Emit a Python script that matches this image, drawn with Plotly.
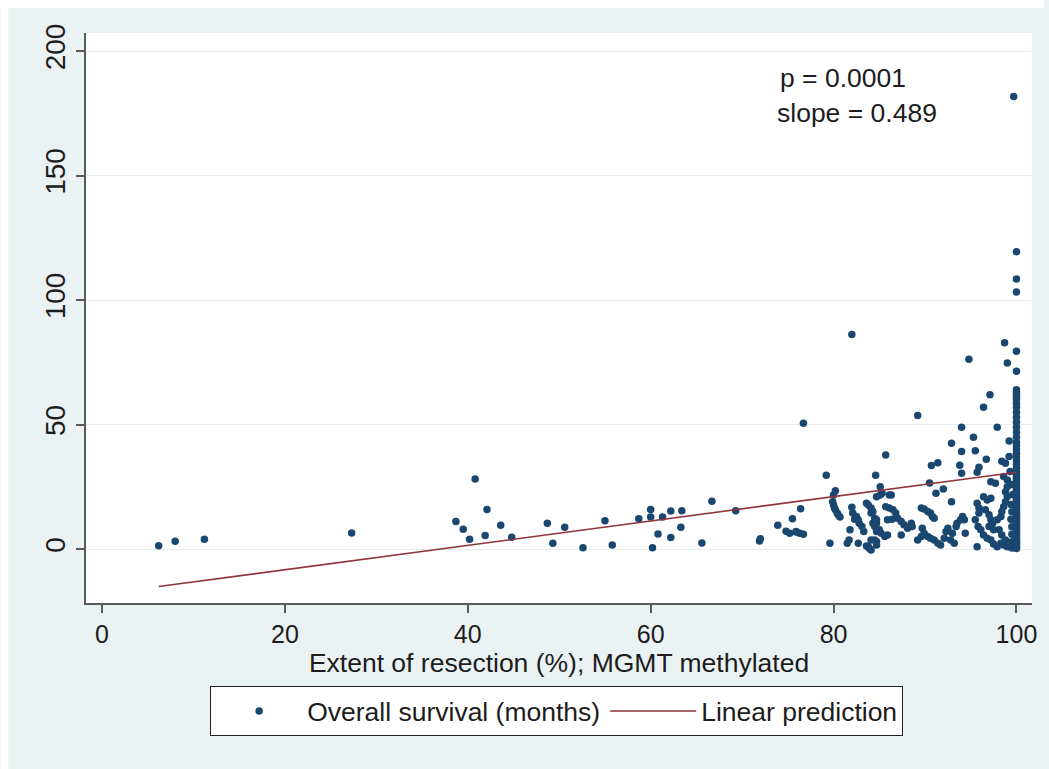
import plotly.graph_objects as go

# ---------------- data ----------------
extent_partial = [
    6.2, 8.0, 11.2, 27.3, 38.7, 39.5, 40.2, 40.8,
    42.1, 41.9, 43.6, 44.8, 48.7, 49.3, 50.6, 52.6, 55.0, 55.8, 58.7, 60.0,
    60.0, 60.2, 60.8, 61.3, 62.2, 62.2, 63.3, 63.4, 65.6, 66.7, 69.3, 71.9,
    72.0, 73.9, 74.8, 75.2, 75.5, 75.9, 76.4, 76.7, 76.7, 75.9, 76.3,
    79.2, 80.2, 80.0, 79.9, 80.0, 80.1, 80.2, 80.4, 80.5, 80.7, 79.6, 82.0,
    82.0, 82.1, 82.3, 82.5, 82.7, 82.8, 83.1, 83.3, 81.8, 81.7, 81.5, 82.7,
    83.6, 83.9, 84.1, 83.8, 83.8, 84.1, 84.3, 83.6, 84.1, 84.5, 84.7, 84.3,
    84.7, 84.5, 85.0, 84.7, 85.2, 84.1, 84.7, 84.5, 84.7, 84.6, 85.1, 85.3,
    84.7, 85.1, 86.1, 85.7, 85.7, 86.1, 86.5, 85.9, 86.4, 85.6, 85.9, 86.3,
    86.8, 87.0, 87.4, 87.7, 88.1, 87.4, 88.5, 88.6, 89.2, 89.6, 89.9, 90.3,
    90.6, 90.8, 91.0, 89.7, 89.9, 90.3, 90.6, 91.0, 91.4, 91.7, 89.2, 89.6,
    90.5, 91.2, 92.0, 92.9, 90.7, 91.4,
    92.1, 92.3, 92.5, 93.0, 93.4, 93.5, 93.9, 92.8, 93.2, 94.1, 94.3, 94.4,
    92.9, 94.0, 94.0, 93.8, 94.0, 94.8, 95.3, 95.5, 95.7, 95.9, 95.9, 95.5,
    95.8, 96.1, 95.7, 95.7, 95.9,
    96.4, 97.1, 96.7, 96.4, 96.8, 97.2, 96.6, 97.0, 97.2, 97.4, 97.0, 97.5,
    96.4, 96.8, 97.2, 97.5, 97.2, 97.7, 97.9, 98.7, 99.0, 98.4, 98.8, 99.2,
    99.2, 98.6, 99.0, 99.3, 97.9, 98.3, 98.4, 98.6, 98.8, 99.0, 98.8, 99.0,
    98.1, 98.4, 98.8, 98.6, 99.0, 97.9, 98.3, 99.7,
    99.5, 99.5, 99.5, 99.4, 99.5, 99.4, 99.6, 99.5, 99.5,
]
survival_partial = [
    1.4, 3.2, 4.0, 6.5, 11.1, 8.0, 4.0, 28.2,
    15.9, 5.5, 9.6, 4.8, 10.4, 2.4, 8.8, 0.6, 11.4, 1.7, 12.2, 15.9,
    12.9, 0.6, 6.1, 12.9, 15.3, 4.7, 8.8, 15.4, 2.5, 19.3, 15.4, 3.3,
    4.2, 9.6, 7.2, 6.4, 12.2, 6.9, 16.2, 6.0, 50.6, 7.1, 6.4,
    29.7, 23.5, 21.8, 19.1, 17.8, 16.5, 15.8, 14.5, 13.8, 12.9, 2.4, 86.2,
    16.9, 14.5, 12.0, 13.1, 11.8, 10.4, 9.1, 7.1, 7.8, 3.7, 2.4, 2.4,
    1.3, 0.4, -0.3, 1.0, 17.8, 16.5, 15.1, 18.5, 14.5, 12.4, 11.8, 10.4,
    10.4, 9.1, 7.8, 7.1, 6.4, 3.7, 3.1, 3.7, 1.7, 29.7, 25.1, 22.5,
    21.1, 21.8, 21.8, 37.8, 17.1, 16.5, 15.8, 11.8, 12.0, 5.1, 5.7, 21.8,
    14.5, 12.4, 11.1, 9.8, 8.4, 5.7, 10.4, 9.1, 53.7, 16.5, 16.1, 15.1,
    14.5, 13.1, 12.4, 8.4, 6.4, 5.1, 4.4, 3.7, 2.4, 1.7, 3.7, 5.1,
    26.6, 22.5, 24.2, 19.1, 33.6, 34.7,
    4.4, 7.1, 8.4, 6.4, 9.1, 10.4, 11.8, 3.7, 2.4, 13.1, 11.8, 6.4,
    42.6, 49.0, 39.2, 33.7, 30.5, 76.3, 45.0, 39.5, 18.5, 16.5, 14.5, 11.8,
    9.1, 7.8, 1.0, 30.9, 32.9,
    57.0, 62.0, 36.1, 21.1, 19.8, 20.5, 15.8, 13.8, 11.8, 10.4, 9.1, 7.8,
    5.7, 4.4, 3.7, 2.1, 27.1, 26.5, 49.0, 82.9, 74.8, 35.3, 34.5, 37.2,
    43.5, 29.2, 27.8, 31.2, 11.8, 13.1, 15.1, 17.1, 19.1, 21.1, 23.1, 25.1,
    7.8, 5.7, 3.7, 1.7, 1.0, 1.0, 2.4, 181.8,
    3.0, 6.0, 9.0, 12.0, 15.0, 18.0, 22.0, 26.0, 0.5,
]

# patients with 100 % resection
extent_total = [100.0] * 66
survival_total = [
    0.3, 0.8, 1.3, 1.8, 2.3, 2.8, 3.3, 3.8, 4.5, 5.2, 6.0, 6.8, 7.6, 8.4,
    9.2, 10.0, 10.8, 11.6, 12.4, 13.2, 14.0, 14.8, 15.6, 16.4, 17.2, 18.0,
    18.8, 19.6, 20.4, 21.2, 22.0, 23.0, 24.0, 25.0, 26.0, 27.0, 28.0, 29.0,
    30.0, 31.0, 32.5, 34.0, 35.5, 37.0, 38.5, 40.0, 41.5, 43.0, 45.0, 47.0,
    49.0, 51.0, 53.0, 55.0, 57.0, 58.5, 60.0, 61.0, 62.0, 63.0, 64.0,
    71.5, 79.5, 103.3, 108.5, 119.5,
]

extent = extent_partial + extent_total
survival = survival_partial + survival_total

# fitted line (endpoints)
pred_x = [6.2, 100.0]
pred_y = [-15.0, 30.9]

x_ticks = [0, 20, 40, 60, 80, 100]
y_ticks = [0, 50, 100, 150, 200]

stats_lines = ["p = 0.0001", "slope = 0.489"]

# ---------------- styling ----------------
NAVY = "#1a476f"
MAROON = "#90353b"
BG = "#eaf2f3"
FONT = "Liberation Sans, Arial, sans-serif"
TXT = "#1c1c1c"
AX = "#5a5a5a"

fig = go.Figure()
fig.add_trace(go.Scatter(
    x=extent, y=survival, mode="markers",
    name="Overall survival (months)",
    marker=dict(color=NAVY, size=7.5, line=dict(width=0)),
))
fig.add_trace(go.Scatter(
    x=pred_x, y=pred_y, mode="lines",
    name="Linear prediction",
    line=dict(color=MAROON, width=1.6),
))

fig.add_annotation(x=73.9, y=189.3, xref="x", yref="y", text=stats_lines[0],
                   showarrow=False, xanchor="left", yanchor="middle",
                   font=dict(family=FONT, size=26.5, color=TXT))
fig.add_annotation(x=73.6, y=175.2, xref="x", yref="y", text=stats_lines[1],
                   showarrow=False, xanchor="left", yanchor="middle",
                   font=dict(family=FONT, size=26.5, color=TXT))

# white strips at the top/left edge of the page (outside grey graph region)
fig.add_shape(type="rect", xref="paper", yref="paper",
              x0=-86/951, x1=963/951, y0=1 + 25/570, y1=1 + 33/570,
              fillcolor="white", line=dict(width=0), layer="below")
fig.add_shape(type="rect", xref="paper", yref="paper",
              x0=-86/951, x1=-78/951, y0=-166/570, y1=1 + 33/570,
              fillcolor="white", line=dict(width=0), layer="below")

fig.update_layout(
    width=1049, height=769,
    margin=dict(l=86, r=12, t=33, b=166),
    paper_bgcolor=BG, plot_bgcolor="white",
    font=dict(family=FONT, size=24, color=TXT),
    showlegend=True,
    legend=dict(
        orientation="h", x=0.4975, xanchor="center", y=-0.146, yanchor="top",
        bgcolor="white", bordercolor="#222222", borderwidth=1,
        font=dict(family=FONT, size=26.5, color=TXT),
        itemwidth=86, traceorder="normal",
    ),
    xaxis=dict(
        range=[-1.75, 101.7], tickvals=x_ticks, ticktext=[str(v) for v in x_ticks],
        showgrid=False, zeroline=False, showline=True, linecolor=AX, linewidth=1.5,
        ticks="outside", ticklen=8, tickcolor=AX, tickwidth=1.5,
        tickfont=dict(family=FONT, size=25, color=TXT),
        title=dict(text="Extent of resection (%); MGMT methylated",
                   font=dict(family=FONT, size=26.5, color=TXT), standoff=2),
    ),
    yaxis=dict(
        range=[-21.6, 207.3], tickvals=y_ticks, ticktext=[str(v) for v in y_ticks],
        showgrid=True, gridcolor="#e6ecee", gridwidth=1.2, zeroline=False,
        showline=True, linecolor=AX, linewidth=1.5,
        ticks="outside", ticklen=8, tickcolor=AX, tickwidth=1.5,
        tickangle=-90,
        tickfont=dict(family=FONT, size=28, color=TXT),
    ),
)

fig.write_html("out.html")
